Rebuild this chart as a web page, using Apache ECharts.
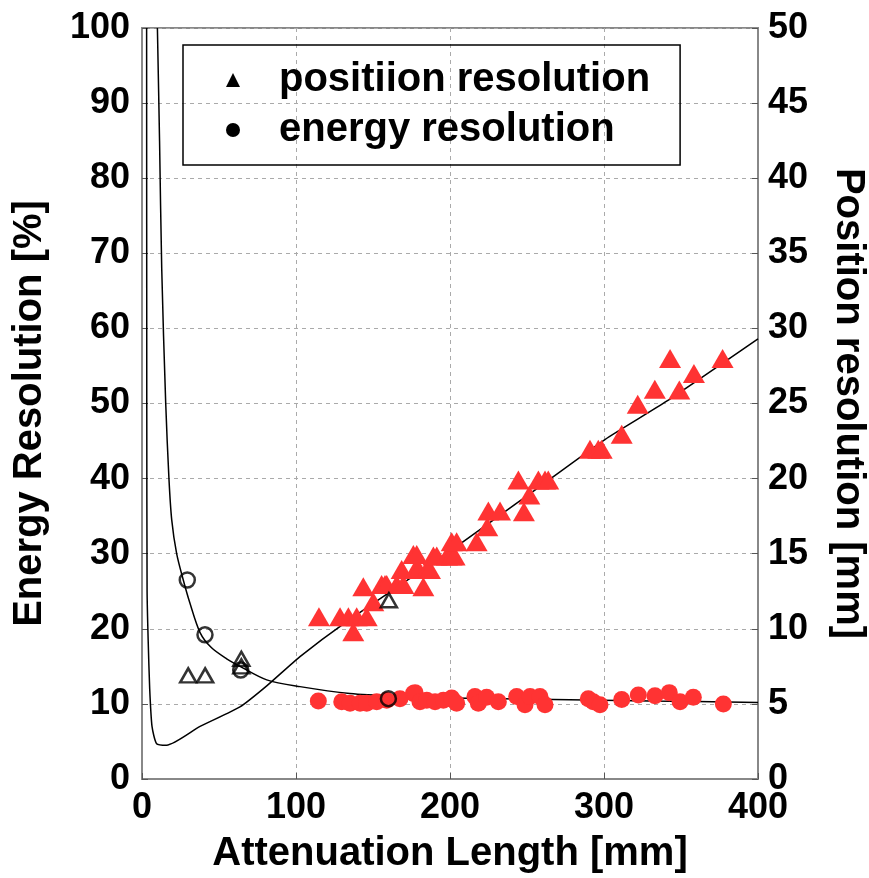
<!DOCTYPE html>
<html>
<head>
<meta charset="utf-8">
<script src="https://cdn.jsdelivr.net/npm/echarts@6/dist/echarts.min.js"></script>
<style>
  html, body { margin: 0; padding: 0; background: #fff; }
  #container { width: 869px; height: 878px; }
</style>
</head>
<body>
<div id="container"></div>
<script>
// attenuation length [mm] vs resolutions
var xTicks = [0, 100, 200, 300, 400];

// red triangles: position resolution [mm] (right axis)
var posRed = [
  [114.9,10.8],[128.6,10.8],[134,10.8],[139.4,10.8],[145.9,10.8],[137.2,9.8],[143.7,12.8],[150.2,11.8],
  [155.6,12.95],[157.8,12.95],[158.9,12.95],[165.4,12.95],[169.7,12.95],[182.7,12.8],[168.6,13.95],
  [177.5,13.95],[179.7,13.95],[185,13.95],[187,13.95],[176.2,14.95],[178.4,14.95],[189.2,14.85],
  [191.4,14.85],[198,14.85],[201,14.85],[203,14.85],[201.1,15.8],[204.3,15.8],[217.3,15.8],[224.2,16.8],
  [224.9,17.85],[232.5,17.85],[248,17.8],[251.5,18.9],[244.4,19.9],[257.4,19.9],[261.7,19.9],[263.8,19.9],
  [290.9,21.95],[296.3,21.95],[298.5,21.95],[311.5,22.95],[321.9,24.95],[333,25.95],[348.9,25.9],
  [358.4,27],[342.9,28],[377,28]
];
// black open triangles: position resolution [mm]
var posBlack = [[30,6.9],[41,6.9],[64.5,8],[64.5,7.5],[160.3,11.9]];

// red circles: energy resolution [%] (left axis)
var enRed = [
  [114.5,10.4],[129.7,10.3],[135.1,10.1],[141.6,10.1],[145.9,10.1],[152.4,10.3],[158.9,10.5],[167.5,10.7],
  [176.2,11.4],[177.3,11.5],[180.5,10.3],[184.9,10.5],[190.3,10.3],[195.7,10.5],[201.1,10.8],[204.3,10.1],
  [216.2,11.0],[218.4,10.1],[223.8,10.9],[231.4,10.3],[243.3,11.0],[248.7,9.9],[252,11.0],[258.4,11.0],
  [261.7,9.9],[289.8,10.7],[293,10.3],[297.4,9.9],[311.5,10.6],[322.3,11.2],[333.1,11.1],[342.4,11.5],
  [349.4,10.3],[358,10.9],[377.5,10.0]
];
// black open circles: energy resolution [%]
var enBlack = [[29.4,26.5],[40.9,19.2],[64.1,14.5],[160,10.7]];

// black curves
var enCurve = [
  [10,100],[11.4,85],[12.8,68],[15.4,50],[17.5,40],[19.3,34.5],[22.5,30],[26.8,26.5],[31,23.5],
  [37.7,19.5],[45,17.5],[55,16],[63.6,15],[81,13.2],[102.6,12.3],[135,11.4],[170,11.0],[200,10.8],
  [267,10.6],[330,10.4],[400,10.2]
];
var posCurve = [
  [3,50],[3.1,25],[3.3,12.5],[4,9.25],[5,6],[6.5,3.5],[9.5,2.35],[16,2.25],[37.7,3.5],[63.6,4.8],
  [81,6.2],[102.6,8.15],[131.8,10.4],[201.1,15.25],[254,19.15],[300.6,22.6],
  [340.7,25.15],[400,29.3]
];

var FONT = 'Liberation Sans';
var dom = document.getElementById('container');
var myChart = echarts.init(dom, null, { renderer: 'canvas' });

var labelStyle = { color: '#000', fontFamily: FONT, fontWeight: 'bold', fontSize: 36 };
var nameStyle = { color: '#000', fontFamily: FONT, fontWeight: 'bold', fontSize: 40 };

var option = {
  backgroundColor: '#fff',
  animation: false,
  grid: {
    left: 142, right: 111, top: 28, bottom: 99,
    outerBoundsMode: 'none', containLabel: false,
    show: true, borderColor: '#888', borderWidth: 2
  },
  legend: {
    orient: 'vertical',
    left: 183, top: 45,
    borderColor: '#000', borderWidth: 1.5,
    padding: [15, 30, 15, 43],
    itemGap: 10,
    itemWidth: 14, itemHeight: 14,
    textStyle: { color: '#000', fontFamily: FONT, fontWeight: 'bold', fontSize: 40, padding: [0, 0, 0, 34] },
    data: [
      { name: 'positiion resolution', icon: 'triangle', itemStyle: { color: '#000' } },
      { name: 'energy resolution', icon: 'circle', itemStyle: { color: '#000' } }
    ]
  },
  xAxis: {
    type: 'value', min: 0, max: 400, interval: 100,
    name: 'Attenuation Length [mm]', nameLocation: 'middle', nameGap: 55,
    nameTextStyle: nameStyle,
    axisLine: { lineStyle: { color: '#888', width: 2 } },
    axisTick: { inside: true, length: 6, lineStyle: { color: '#555' } },
    axisLabel: Object.assign({ margin: 11 }, labelStyle),
    splitLine: { lineStyle: { type: [4, 4], color: '#aaa' } }
  },
  yAxis: [
    {
      type: 'value', min: 0, max: 100, interval: 10,
      name: 'Energy Resolution [%]', nameLocation: 'middle', nameGap: 92,
      nameTextStyle: Object.assign({ padding: [0, 20, 0, 0] }, nameStyle),
      axisLine: { show: true, lineStyle: { color: '#888', width: 2 } },
      axisTick: { show: true, inside: true, length: 6, lineStyle: { color: '#555' } },
      axisLabel: Object.assign({ margin: 12 }, labelStyle),
      splitLine: { lineStyle: { type: [4, 4], color: '#aaa' } }
    },
    {
      type: 'value', min: 0, max: 50, interval: 5, position: 'right',
      name: 'Position resolution [mm]', nameLocation: 'middle', nameGap: 70, nameRotate: -90,
      nameTextStyle: nameStyle,
      axisLine: { show: true, lineStyle: { color: '#888', width: 2 } },
      axisTick: { show: true, inside: true, length: 6, lineStyle: { color: '#555' } },
      axisLabel: Object.assign({ margin: 10 }, labelStyle),
      splitLine: { show: false }
    }
  ],
  series: [
    {
      name: 'energy curve', type: 'line', yAxisIndex: 0, data: enCurve,
      showSymbol: false, smooth: 0.3, lineStyle: { color: '#000', width: 1.5 }, z: 2
    },
    {
      name: 'position curve', type: 'line', yAxisIndex: 1, data: posCurve,
      showSymbol: false, smooth: 0.2, lineStyle: { color: '#000', width: 1.5 }, z: 2
    },
    {
      name: 'positiion resolution', type: 'scatter', yAxisIndex: 1, data: posRed,
      symbol: 'triangle', symbolSize: [22, 19], itemStyle: { color: '#ff3333', opacity: 1 }, z: 3
    },
    {
      name: 'energy resolution', type: 'scatter', yAxisIndex: 0, data: enRed,
      symbol: 'circle', symbolSize: 17, itemStyle: { color: '#ff3333', opacity: 1 }, z: 3
    },
    {
      name: 'position (black)', type: 'scatter', yAxisIndex: 1, data: posBlack,
      symbol: 'triangle', symbolSize: [16, 14],
      itemStyle: { color: 'rgba(255,255,255,0)', borderColor: '#000', borderWidth: 2.5 }, z: 4
    },
    {
      name: 'energy (black)', type: 'scatter', yAxisIndex: 0, data: enBlack,
      symbol: 'circle', symbolSize: 15,
      itemStyle: { color: 'rgba(255,255,255,0)', borderColor: '#000', borderWidth: 2.5 }, z: 4
    }
  ]
};

myChart.setOption(option);
window.addEventListener('resize', myChart.resize);
</script>
</body>
</html>
